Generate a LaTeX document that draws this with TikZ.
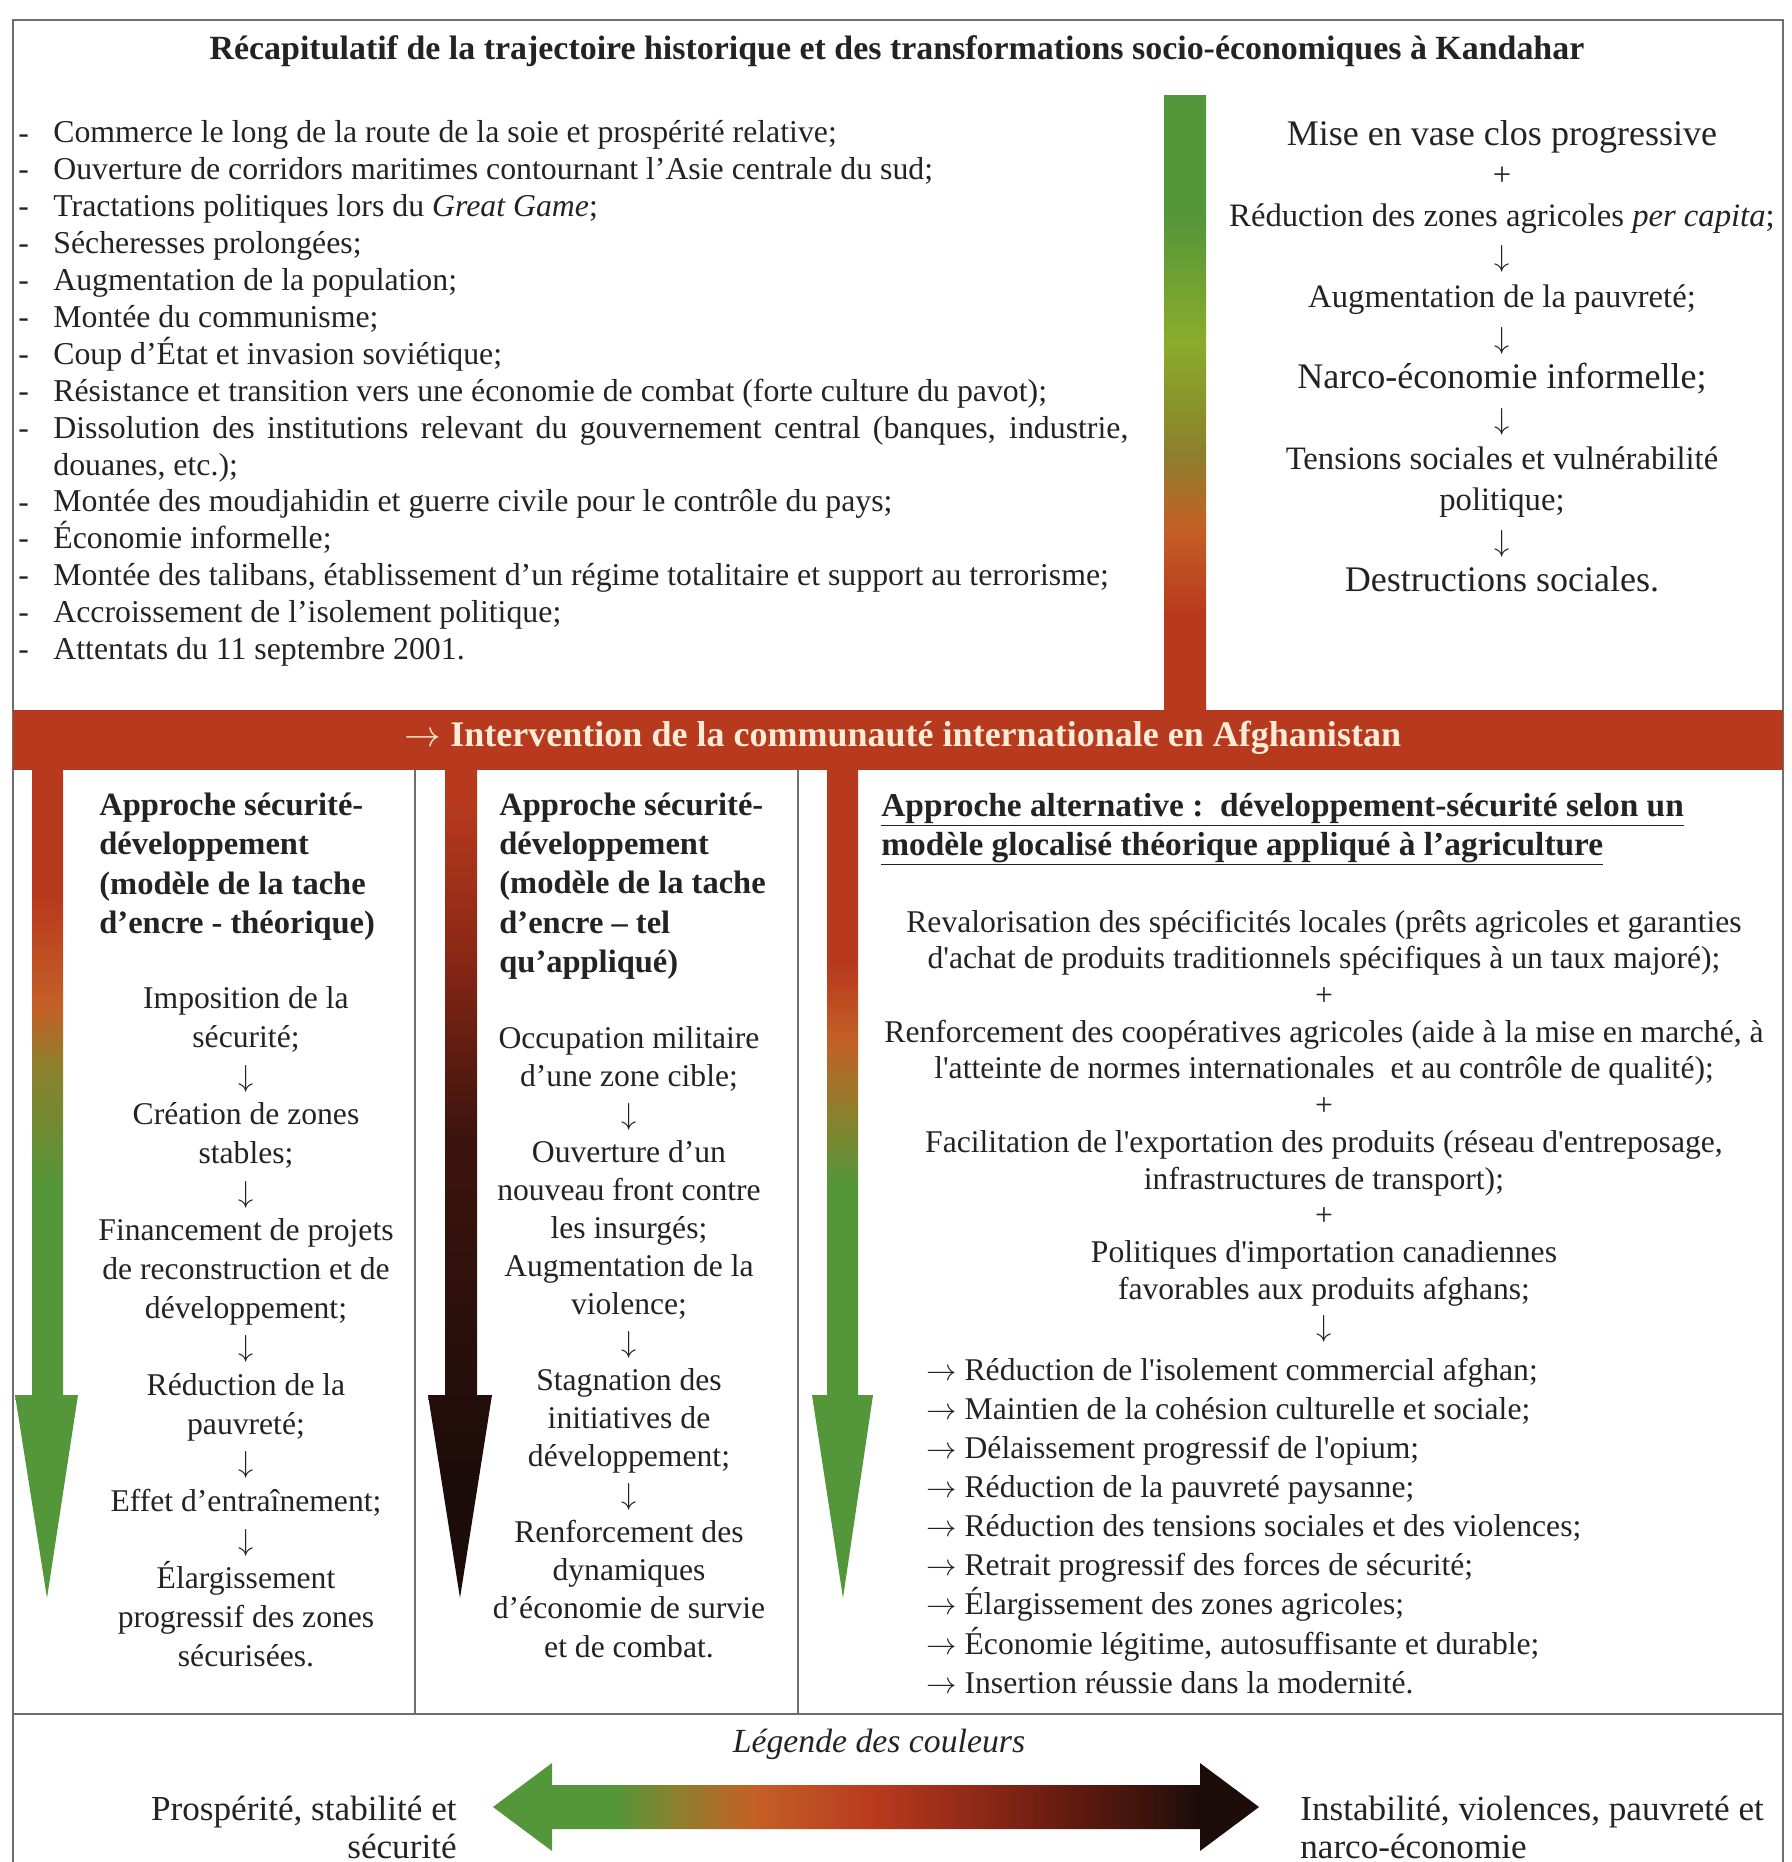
\documentclass[tikz,border=0pt]{standalone}
\usepackage{fontspec}
\setmainfont{Liberation Serif}
\usepackage{tikz}
\usetikzlibrary{shadings}

\definecolor{kgreen}{RGB}{84,150,58}
\definecolor{kyellow}{RGB}{138,172,42}
\definecolor{kolive}{RGB}{140,128,44}
\definecolor{korange}{RGB}{196,96,38}
\definecolor{kred}{RGB}{184,58,30}
\definecolor{kmaroon}{RGB}{140,40,22}
\definecolor{kbrown}{RGB}{96,26,16}
\definecolor{kdark}{RGB}{62,20,13}
\definecolor{kblack}{RGB}{28,12,10}
\definecolor{kink}{RGB}{35,35,35}
\definecolor{kcream}{RGB}{250,236,214}
\definecolor{kframe}{RGB}{110,110,110}

\pgfdeclareverticalshading{barshade}{100bp}{color(0bp)=(kred); color(33bp)=(kred); color(40bp)=(korange); color(46bp)=(kolive); color(55bp)=(kyellow); color(65bp)=(kgreen); color(100bp)=(kgreen)}
\pgfdeclareverticalshading{leftshade}{100bp}{color(0bp)=(kgreen); color(49.6bp)=(kgreen); color(56.9bp)=(kolive); color(60.5bp)=(korange); color(67bp)=(kred); color(100bp)=(kred)}
\pgfdeclareverticalshading{midshade}{100bp}{color(0bp)=(kblack); color(32bp)=(kblack); color(53bp)=(kdark); color(64bp)=(kmaroon); color(73bp)=(kred); color(100bp)=(kred)}
\pgfdeclareverticalshading{rightshade}{100bp}{color(0bp)=(kgreen); color(49.8bp)=(kgreen); color(54.1bp)=(kolive); color(58.4bp)=(korange); color(63bp)=(kred); color(100bp)=(kred)}
\pgfdeclarehorizontalshading{legshade}{100bp}{color(0bp)=(kgreen); color(33bp)=(kgreen); color(37bp)=(kolive); color(42bp)=(korange); color(50bp)=(kred); color(57bp)=(kmaroon); color(63bp)=(kbrown); color(67.5bp)=(kdark); color(71bp)=(kblack); color(100bp)=(kblack)}

\newcommand{\sq}{\textquotesingle}

\tikzset{
  frame/.style={draw=kframe, line width=1.2pt},
  txt/.style={inner sep=0pt, text=kink, font=\fontsize{18}{21}\selectfont},
  head/.style={txt, align=left, anchor=base west, font=\fontsize{18.5}{22.2}\selectfont\bfseries},
}

\begin{document}
\begin{tikzpicture}[x=0.2mm, y=-0.2mm]
\useasboundingbox (0,0) rectangle (1792,1862);
\clip (0,0) rectangle (1792,1862);

% cadre
\draw[frame] (13,20) rectangle (1783,1900);
\draw[frame] (13,1714) -- (1783,1714);
\draw[frame] (415,770) -- (415,1714);
\draw[frame] (798,770) -- (798,1714);

% barre et bandeau
\shade[shading=barshade] (1164,95) rectangle (1206,712);
\fill[kred] (13,710) rectangle (1783,770);

\shade[shading=leftshade] (32,765) -- (32,1395) -- (15,1395) -- (47,1598) -- (78,1395) -- (63,1395) -- (63,765) -- cycle;
\shade[shading=midshade] (445,765) -- (445,1395) -- (428,1395) -- (460,1598) -- (492,1395) -- (477,1395) -- (477,765) -- cycle;
\shade[shading=rightshade] (827,765) -- (827,1395) -- (812,1395) -- (843,1598) -- (873,1395) -- (858,1395) -- (858,765) -- cycle;

\node[txt, anchor=base, font=\fontsize{19.3}{23}\selectfont\bfseries] (titre) at (897,59)
  {Récapitulatif de la trajectoire historique et des transformations socio-économiques à Kandahar};

% trajectoire (ancre sur la derniere ligne)
\node[txt, align=left, anchor=base west, font=\fontsize{18.1}{21}\selectfont] (histoire) at (53,659.6) {Commerce le long de la route de la soie et prospérité relative;\\
Ouverture de corridors maritimes contournant l’Asie centrale du sud;\\
Tractations politiques lors du \textit{Great Game};\\
Sécheresses prolongées;\\
Augmentation de la population;\\
Montée du communisme;\\
Coup d’État et invasion soviétique;\\
Résistance et transition vers une économie de combat (forte culture du pavot);\\
\makebox[215mm][s]{Dissolution des institutions relevant du gouvernement central (banques, industrie,}\\
douanes, etc.);\\
Montée des moudjahidin et guerre civile pour le contrôle du pays;\\
Économie informelle;\\
Montée des talibans, établissement d’un régime totalitaire et support au terrorisme;\\
Accroissement de l’isolement politique;\\
Attentats du 11 septembre 2001.};
\foreach \i in {0,1,2,3,4,5,6,7,8,10,11,12,13,14}
  \node[txt, anchor=base west] (tiret\i) at (18,143+36.9*\i) {-};

\node[txt, align=center, anchor=base, font=\fontsize{18.6}{23.1}\selectfont] (vase) at (1502,591.6)
  {{\fontsize{20.5}{23.1}\selectfont Mise en vase clos progressive}\\
  +\\
  Réduction des zones agricoles \textit{per capita};\\
  $\downarrow$\\
  Augmentation de la pauvreté;\\
  $\downarrow$\\
  {\fontsize{20.5}{23.1}\selectfont Narco-économie informelle;}\\
  $\downarrow$\\
  Tensions sociales et vulnérabilité\\
  politique;\\
  $\downarrow$\\
  {\fontsize{20.5}{23.1}\selectfont Destructions sociales.}};

\node[txt, anchor=base, text=kcream, font=\fontsize{20.5}{24}\selectfont\bfseries] (intervention) at (903,746)
  {$\rightarrow$ Intervention de la communauté internationale en Afghanistan};

% colonne 1
\node[head] (theorie) at (99,933) {Approche sécurité-\\développement\\(modèle de la tache\\d’encre - théorique)};
\node[txt, align=center, anchor=base, font=\fontsize{18}{22}\selectfont] (tache) at (246,1666)
  {Imposition de la\\sécurité;\\$\downarrow$\\Création de zones\\stables;\\$\downarrow$\\Financement de projets\\de reconstruction et de\\développement;\\$\downarrow$\\Réduction de la\\pauvreté;\\$\downarrow$\\Effet d’entraînement;\\$\downarrow$\\Élargissement\\progressif des zones\\sécurisées.};

% colonne 2
\node[head] (pratique) at (499,972) {Approche sécurité-\\développement\\(modèle de la tache\\d’encre – tel\\qu’appliqué)};
\node[txt, align=center, anchor=base, font=\fontsize{18}{21.65}\selectfont] (occupation) at (629,1657)
  {Occupation militaire\\d’une zone cible;\\$\downarrow$\\Ouverture d’un\\nouveau front contre\\les insurgés;\\Augmentation de la\\violence;\\$\downarrow$\\Stagnation des\\initiatives de\\développement;\\$\downarrow$\\Renforcement des\\dynamiques\\d’économie de survie\\et de combat.};

% colonne 3
\node[head, font=\fontsize{19}{22.2}\selectfont\bfseries] (alternative) at (881,855) {\underline{Approche alternative :\ \ développement-sécurité selon un}\\\underline{modèle glocalisé théorique appliqué à l’agriculture}};
\node[txt, align=center, anchor=base, font=\fontsize{18}{20.9}\selectfont] (locales) at (1324,1336)
  {Revalorisation des spécificités locales (prêts agricoles et garanties\\
  d\sq achat de produits traditionnels spécifiques à un taux majoré);\\
  +\\
  Renforcement des coopératives agricoles (aide à la mise en marché, à\\
  l\sq atteinte de normes internationales\ \ et au contrôle de qualité);\\
  +\\
  Facilitation de l\sq exportation des produits (réseau d\sq entreposage,\\
  infrastructures de transport);\\
  +\\
  Politiques d\sq importation canadiennes\\
  favorables aux produits afghans;\\
  $\downarrow$};
\node[txt, align=left, anchor=base west, font=\fontsize{18}{22.2}\selectfont] (effets) at (926,1693)
  {$\rightarrow$ Réduction de l\sq isolement commercial afghan;\\
  $\rightarrow$ Maintien de la cohésion culturelle et sociale;\\
  $\rightarrow$ Délaissement progressif de l\sq opium;\\
  $\rightarrow$ Réduction de la pauvreté paysanne;\\
  $\rightarrow$ Réduction des tensions sociales et des violences;\\
  $\rightarrow$ Retrait progressif des forces de sécurité;\\
  $\rightarrow$ Élargissement des zones agricoles;\\
  $\rightarrow$ Économie légitime, autosuffisante et durable;\\
  $\rightarrow$ Insertion réussie dans la modernité.};

% legende
\node[txt, anchor=base, font=\fontsize{19.2}{22}\selectfont\itshape] (legende) at (879,1752) {Légende des couleurs};
\shade[shading=legshade] (493,1807) -- (552,1763) -- (552,1785) -- (1200,1785) -- (1200,1763) -- (1259,1807)
  -- (1200,1851) -- (1200,1829) -- (552,1829) -- (552,1851) -- cycle;
\node[txt, align=right, anchor=base east, font=\fontsize{20}{21.6}\selectfont] (prosperite) at (457,1858) {Prospérité, stabilité et\\sécurité};
\node[txt, align=left, anchor=base west, font=\fontsize{20}{21.6}\selectfont] (instabilite) at (1300,1858) {Instabilité, violences, pauvreté et\\narco-économie};

\end{tikzpicture}
\end{document}
